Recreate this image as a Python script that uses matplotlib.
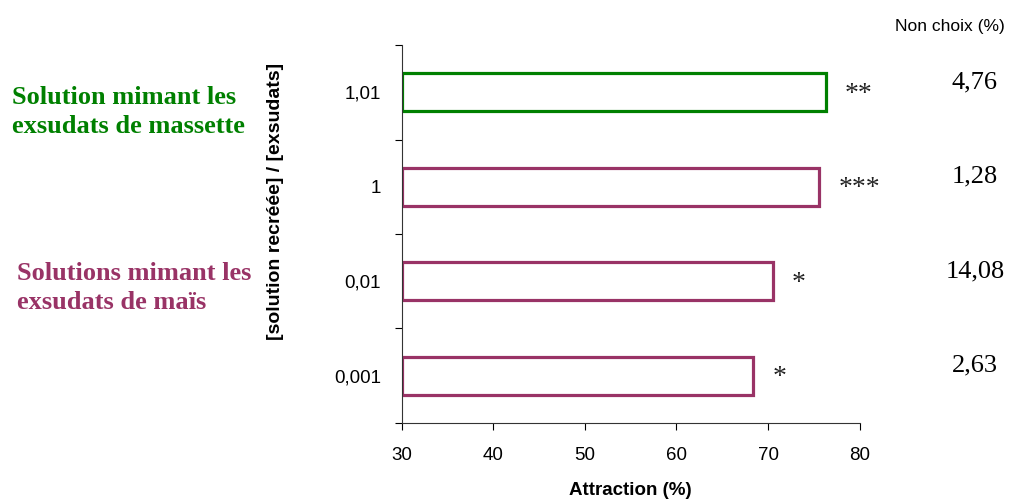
import matplotlib.pyplot as plt
from matplotlib.ticker import FixedLocator

# data (top to bottom)
ratios = ["1,01", "1", "0,01", "0,001"]
attraction = [76.3, 75.6, 70.5, 68.4]
stars = ["**", "***", "*", "*"]
non_choix = ["4,76", "1,28", "14,08", "2,63"]

green = "#008000"
purple = "#993366"
colors = [green, purple, purple, purple]

plt.rcParams["font.family"] = ["Liberation Sans", "DejaVu Sans"]

fig = plt.figure(figsize=(10.1, 5.01), dpi=100)
ax = fig.add_axes([0.398, 0.156, 0.453, 0.754])

pos = [3, 2, 1, 0]
left = 30
widths = [v - left for v in attraction]
ax.barh(pos, widths, left=left, height=0.4, color="white",
        edgecolor=colors, linewidth=2.3)

ax.set_xlim(30, 80)
ax.set_ylim(-0.5, 3.5)
ax.set_xticks(range(30, 81, 10))
ax.tick_params(axis="x", direction="out", length=5, labelsize=13.5, pad=12.5)

# y: tick marks at category boundaries, labels at centres
ax.yaxis.set_major_locator(FixedLocator([-0.5, 0.5, 1.5, 2.5, 3.5]))
ax.set_yticklabels([])
ax.set_yticks(pos, minor=True)
ax.set_yticklabels(ratios, minor=True)
ax.tick_params(axis="y", which="major", direction="out", length=5)
ax.tick_params(axis="y", which="minor", length=0, labelsize=13.5, pad=15)

for s in ["top", "right"]:
    ax.spines[s].set_visible(False)
for s in ["left", "bottom"]:
    ax.spines[s].set_color("#333333")

ax.set_xlabel("Attraction (%)", fontweight="bold", fontsize=13.5, labelpad=13)
ax.set_ylabel("[solution recréée] / [exsudats]", fontweight="bold", fontsize=14)
ax.yaxis.set_label_coords(-0.258, 0.585)

for p, v, s in zip(pos, attraction, stars):
    ax.text(v + 2.1, p - 0.02, s, ha="left", va="center", fontsize=20,
            family="Liberation Serif", color="#222222")

for p, n in zip(pos, non_choix):
    y_fig = ax.transData.transform((30, p))[1]
    fig.text(975 / 1010, (y_fig + 10) / 501, n, ha="center", va="center",
             fontsize=19, family="Liberation Serif")

fig.text(950 / 1010, 1 - 27 / 501, "Non choix (%)", ha="center", va="center",
         fontsize=12.5)

fig.text(12 / 1010, 1 - 112 / 501, "Solution mimant les\nexsudats de massette",
         ha="left", va="center", fontsize=19, fontweight="bold", color=green,
         family="Liberation Serif", linespacing=1.32)
fig.text(17 / 1010, 1 - 288 / 501, "Solutions mimant les\nexsudats de maïs",
         ha="left", va="center", fontsize=19, fontweight="bold", color=purple,
         family="Liberation Serif", linespacing=1.32)

fig.savefig("out.png", dpi=100)
